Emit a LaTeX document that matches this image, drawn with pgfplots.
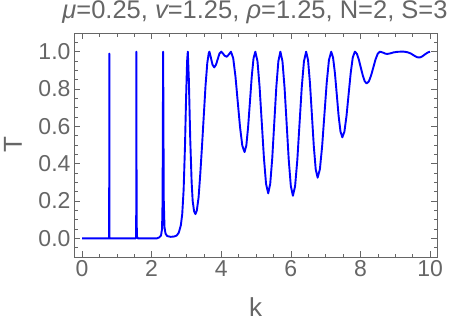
\documentclass[border=0pt]{standalone}
\usepackage{fontspec}
\setmainfont{Liberation Sans}
\usepackage{pgfplots}
\pgfplotsset{compat=1.18}
\definecolor{mmagray}{gray}{0.4}
\definecolor{mmablue}{rgb}{0,0,1}

\begin{document}
\begin{tikzpicture}[x=1pt,y=1pt]
\begin{axis}[
    at={(0,0)}, anchor=south west,
    scale only axis,
    width=363pt, height=224pt,
    xmin=-0.23, xmax=10.2,
    ymin=-0.1, ymax=1.1,
    xtick={0,2,4,6,8,10},
    ytick={0,0.2,0.4,0.6,0.8,1},
    minor xtick={0.5,1,1.5,2.5,3,3.5,4.5,5,5.5,6.5,7,7.5,8.5,9,9.5},
    minor ytick={-0.05,0.05,0.1,0.15,0.25,0.3,0.35,0.45,0.5,0.55,0.65,0.7,0.75,0.85,0.9,0.95,1.05},
    xtick pos=both, ytick pos=both,
    xticklabel pos=lower, yticklabel pos=left,
    tick align=inside,
    major tick length=6pt, minor tick length=3.5pt,
    axis line style={mmagray, line width=0.8pt},
    every tick/.style={mmagray, line width=0.6pt},
    /pgf/number format/assume math mode=true,
    tick label style={font=\fontsize{23}{25}\selectfont, text=mmagray},
    yticklabel style={/pgf/number format/.cd, fixed, fixed zerofill, precision=1},
    xticklabel style={/pgf/number format/.cd, fixed, precision=0},
]

\addplot[mmablue, line width=1.9pt, line join=round] coordinates {
    (0,0) (0.78,0) (0.785,0.99) (0.79,0)
    (1.55,0) (1.557,0.1) (1.563,1.0) (1.569,0.1) (1.58,0.01) (1.6,0)
    (2.15,0) (2.22,0.005) (2.27,0.015) (2.3,0.05) (2.315,0.2) (2.325,0.7)
    (2.332,1.0) (2.34,0.6) (2.35,0.2) (2.37,0.06) (2.40,0.025) (2.45,0.012)
    (2.55,0.008) (2.65,0.01) (2.72,0.015) (2.78,0.03) (2.84,0.07) (2.88,0.13)
    (2.92,0.26) (2.96,0.5) (2.99,0.75) (3.02,0.95) (3.04,1.0) (3.07,0.85)
    (3.11,0.53) (3.15,0.3) (3.18,0.2) (3.22,0.145) (3.26,0.13) (3.30,0.15)
    (3.35,0.22) (3.40,0.35) (3.45,0.5) (3.50,0.66) (3.55,0.82) (3.60,0.94)
    (3.64,0.99) (3.66,1.0) (3.70,0.97) (3.75,0.93) (3.80,0.916) (3.85,0.93)
    (3.90,0.96) (3.95,0.99) (4.00,1.0) (4.05,0.99) (4.10,0.978) (4.16,0.973)
    (4.22,0.985) (4.28,1.0)
    (4.345,0.964) (4.41,0.866) (4.475,0.731) (4.54,0.597) (4.605,0.498) (4.67,0.462)
    (4.722,0.498) (4.773,0.597) (4.825,0.731) (4.877,0.866) (4.928,0.964) (4.98,1.0)
    (5.042,0.949) (5.103,0.810) (5.165,0.621) (5.227,0.431) (5.288,0.292) (5.35,0.241)
    (5.408,0.292) (5.467,0.431) (5.525,0.621) (5.583,0.810) (5.642,0.949) (5.70,1.0)
    (5.76,0.948) (5.82,0.807) (5.88,0.614) (5.94,0.421) (6.00,0.280) (6.06,0.228)
    (6.123,0.280) (6.187,0.421) (6.25,0.614) (6.313,0.807) (6.377,0.948) (6.44,1.0)
    (6.495,0.955) (6.55,0.831) (6.605,0.663) (6.66,0.494) (6.715,0.370) (6.77,0.325)
    (6.835,0.370) (6.90,0.494) (6.965,0.663) (7.03,0.831) (7.095,0.955) (7.16,1.0)
    (7.213,0.969) (7.267,0.885) (7.32,0.771) (7.373,0.656) (7.427,0.572) (7.48,0.541)
    (7.54,0.572) (7.60,0.656) (7.66,0.771) (7.72,0.885) (7.78,0.969) (7.84,1.0)
    (7.897,0.989) (7.953,0.958) (8.01,0.915) (8.067,0.873) (8.123,0.841) (8.18,0.83)
    (8.243,0.841) (8.307,0.873) (8.37,0.915) (8.433,0.958) (8.497,0.989) (8.56,1.0)
    (8.65,0.995) (8.72,0.989) (8.78,0.988) (8.86,0.991) (8.95,0.996) (9.05,0.999)
    (9.15,1.0) (9.25,1.0) (9.35,0.997) (9.45,0.99) (9.55,0.978) (9.63,0.97)
    (9.71,0.969) (9.78,0.975) (9.85,0.985) (9.93,0.995) (10,1.0)
};

\end{axis}
\node[font=\fontsize{25.5}{27}\selectfont, text=mmagray, inner sep=0pt] at (181,244.5)
    {{\itshape μ}=0.25, {\itshape v}=1.25, {\itshape ρ}=1.25, N=2, S=3};
\node[font=\fontsize{26}{28}\selectfont, text=mmagray, inner sep=0pt] at (181.5,-50) {k};
\node[font=\fontsize{26}{28}\selectfont, text=mmagray, inner sep=0pt, rotate=90] at (-61,112) {T};
\path[use as bounding box] (-74,-70) rectangle (376,257);
\end{tikzpicture}
\end{document}
